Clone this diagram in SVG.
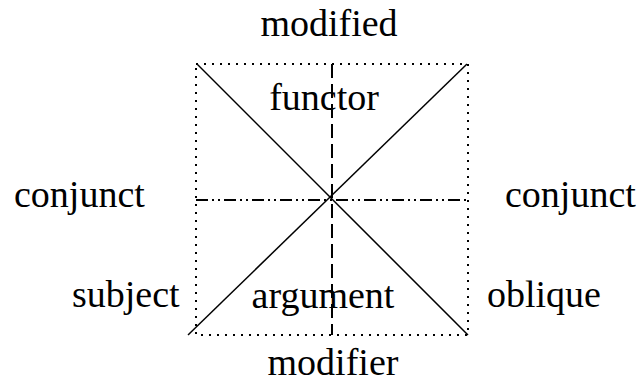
<svg xmlns="http://www.w3.org/2000/svg" width="642" height="383" viewBox="0 0 642 383">
<style>
text{font-family:'Liberation Serif','Times New Roman',serif;font-size:38px;fill:#000}
.dot{stroke:#000;stroke-width:1.2;fill:none;stroke-dasharray:2,6;shape-rendering:crispEdges}
.dash{stroke:#000;stroke-width:1.2;fill:none;stroke-dasharray:14,6;shape-rendering:crispEdges}
.dd{stroke:#000;stroke-width:1.2;fill:none;stroke-dasharray:12,4,2,4,2,4;shape-rendering:crispEdges}
.solid{stroke:#000;stroke-width:1.5;fill:none}
</style>
<rect width="642" height="383" fill="#fff"/>
<g id="connectors">
<rect class="dot" x="196" y="64" width="272" height="271"/>
<line class="dash" x1="332" y1="64" x2="332" y2="335"/>
<line class="dd" x1="196" y1="200" x2="468" y2="200"/>
<line class="solid" x1="197" y1="64" x2="468" y2="335"/>
<line class="solid" x1="188" y1="335" x2="467" y2="64"/>
</g>
<g id="modified"><text x="329" y="36" text-anchor="middle">modified</text></g>
<g id="functor"><text x="324" y="110" text-anchor="middle">functor</text></g>
<g id="conjunct-left"><text x="14" y="207">conjunct</text></g>
<g id="conjunct-right"><text x="505" y="207">conjunct</text></g>
<g id="subject"><text x="72" y="307">subject</text></g>
<g id="argument"><text x="323" y="308" text-anchor="middle">argument</text></g>
<g id="oblique"><text x="487" y="307">oblique</text></g>
<g id="modifier"><text x="333" y="375" text-anchor="middle">modifier</text></g>
</svg>
